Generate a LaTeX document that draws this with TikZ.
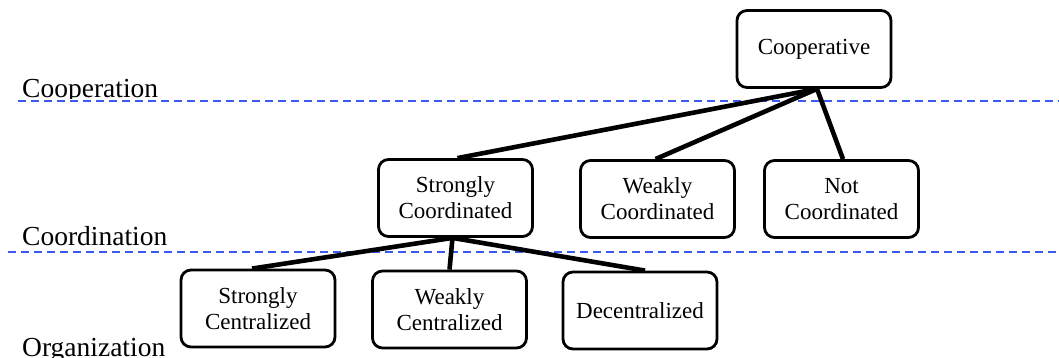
\documentclass[tikz,border=0pt]{standalone}
\usepackage{fontspec}
\setmainfont{Liberation Serif}
\definecolor{guide}{HTML}{3A5BF0}
\tikzset{
  box/.style={draw=black, line width=2.8pt, rounded corners=10pt, fill=white,
    minimum width=154pt, minimum height=77pt, align=center, inner sep=2pt,
    font=\fontsize{23}{26}\selectfont},
  link/.style={draw=black, line width=4.6pt},
  guideline/.style={draw=guide, line width=1.4pt, dash pattern=on 8pt off 5pt},
  level/.style={anchor=base west, inner sep=0pt, font=\fontsize{27.5}{30}\selectfont}
}
\begin{document}
\begin{tikzpicture}[x=1pt,y=-1pt]
\useasboundingbox (0,0) rectangle (1059,358);
% level labels
\begin{scope}
\clip (0,0) rectangle (400,99);
\node[level] (lcoop) at (22,98) {Cooperation};
\end{scope}
\node[level] (lcoord) at (22,245) {Coordination};
\node[level] (lorg) at (22,356) {Organization};
% guide lines
\coordinate (g1a) at (18,101);
\coordinate (g1b) at (1059,101);
\coordinate (g2a) at (8,252);
\coordinate (g2b) at (1059,252);
\draw[guideline] (g1a) -- (g1b);
\draw[guideline] (g2a) -- (g2b);
% nodes
\node[box] (coop) at (814,49) {Cooperative};
\node[box] (sco) at (455.5,198) {Strongly\\Coordinated};
\node[box] (wco) at (657.5,199) {Weakly\\Coordinated};
\node[box] (nco) at (841.5,199) {Not\\Coordinated};
\node[box] (sce) at (258,308.5) {Strongly\\Centralized};
\node[box] (wce) at (449.5,309.5) {Weakly\\Centralized};
\node[box] (dec) at (640,310.5) {Decentralized};
% connectors
\coordinate (cs) at ([xshift=3pt]coop.south);
\draw[link] (cs) -- ([xshift=2pt]sco.north);
\draw[link] (cs) -- ([xshift=-2pt]wco.north);
\draw[link] (cs) -- ([xshift=1.5pt]nco.north);
\coordinate (ss) at ([xshift=-3pt]sco.south);
\draw[link] (ss) -- ([xshift=-6pt]sce.north);
\draw[link] (ss) -- ([xshift=0pt]wce.north);
\draw[link] (ss) -- ([xshift=5pt]dec.north);
\end{tikzpicture}
\end{document}
